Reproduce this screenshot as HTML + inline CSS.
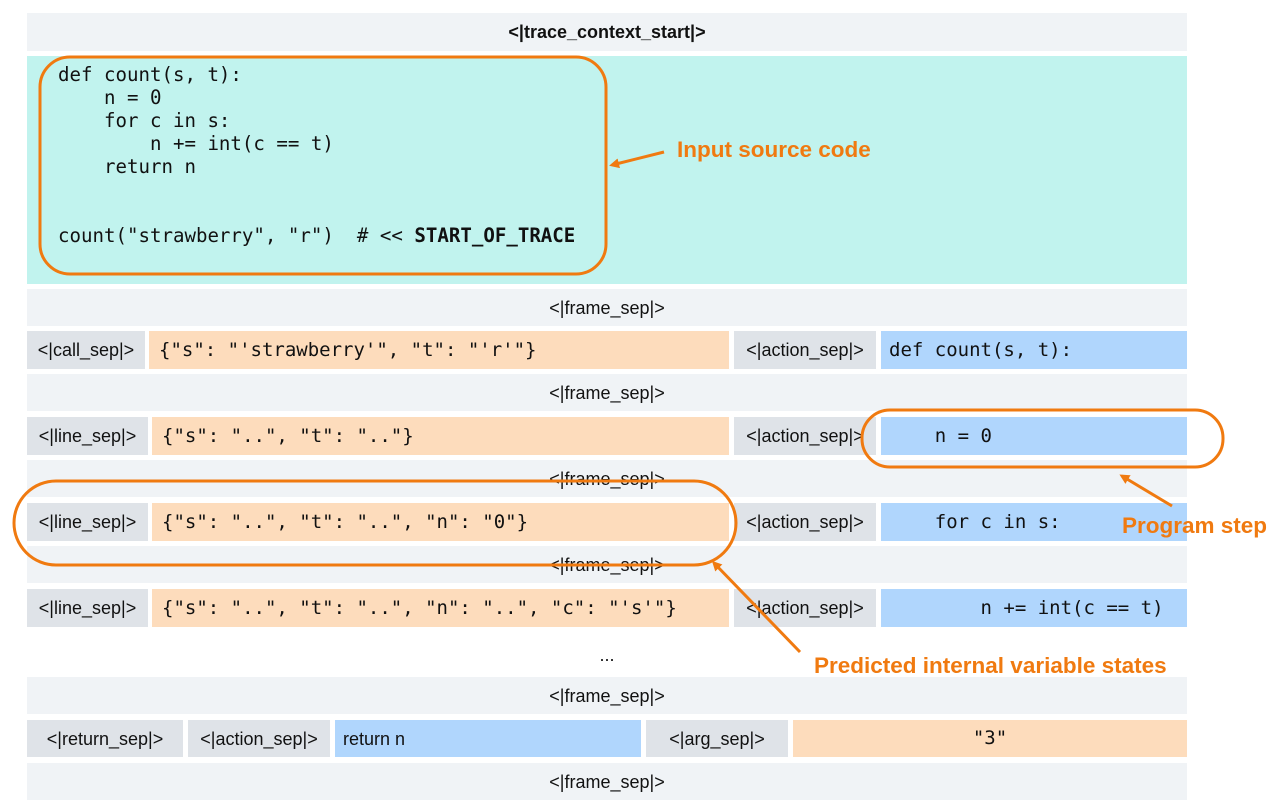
<!DOCTYPE html>
<html><head><meta charset="utf-8"><style>
body{margin:0;width:1280px;height:808px;background:#fff;position:relative;overflow:hidden;font-family:"Liberation Sans",sans-serif;}
.b{position:absolute;box-sizing:border-box;display:flex;align-items:center;font-size:18px;color:#111;white-space:pre;line-height:1;}
.g{background:#f0f3f6;justify-content:center;}
.t{background:#dfe3e8;justify-content:center;}
.o{background:#fddcbc;font-family:"DejaVu Sans Mono","Liberation Mono",monospace;font-size:19px;padding-left:10px;}
.u{background:#b0d6fd;font-family:"DejaVu Sans Mono","Liberation Mono",monospace;font-size:19px;padding-left:8px;}
.code{position:absolute;left:58px;top:63px;font-family:"DejaVu Sans Mono","Liberation Mono",monospace;font-size:19.1px;line-height:23px;white-space:pre;color:#111;}
.a{position:absolute;color:#f07a10;font-weight:bold;font-size:22.5px;white-space:nowrap;}
</style></head><body>
<div class="b g" style="left:27px;top:13px;width:1160px;height:38px;font-weight:bold">&lt;|trace_context_start|&gt;</div>
<div class="b" style="left:27px;top:56px;width:1160px;height:228px;background:#c1f3ee"></div>
<div class="code">def count(s, t):
    n = 0
    for c in s:
        n += int(c == t)
    return n


count("strawberry", "r")  # &lt;&lt; <b>START_OF_TRACE</b></div>

<div class="b g" style="left:27px;top:289px;width:1160px;height:37px">&lt;|frame_sep|&gt;</div>
<div class="b t" style="left:27px;top:331px;width:118px;height:38px">&lt;|call_sep|&gt;</div>
<div class="b o" style="left:149px;top:331px;width:580px;height:38px">{"s": "'strawberry'", "t": "'r'"}</div>
<div class="b t" style="left:734px;top:331px;width:142px;height:38px">&lt;|action_sep|&gt;</div>
<div class="b u" style="left:881px;top:331px;width:306px;height:38px">def count(s, t):</div>

<div class="b g" style="left:27px;top:374px;width:1160px;height:37px">&lt;|frame_sep|&gt;</div>
<div class="b t" style="left:27px;top:417px;width:121px;height:38px">&lt;|line_sep|&gt;</div>
<div class="b o" style="left:152px;top:417px;width:577px;height:38px">{"s": "..", "t": ".."}</div>
<div class="b t" style="left:734px;top:417px;width:142px;height:38px">&lt;|action_sep|&gt;</div>
<div class="b u" style="left:881px;top:417px;width:306px;height:38px">    n = 0</div>

<div class="b g" style="left:27px;top:460px;width:1160px;height:37px">&lt;|frame_sep|&gt;</div>
<div class="b t" style="left:27px;top:503px;width:121px;height:38px">&lt;|line_sep|&gt;</div>
<div class="b o" style="left:152px;top:503px;width:577px;height:38px">{"s": "..", "t": "..", "n": "0"}</div>
<div class="b t" style="left:734px;top:503px;width:142px;height:38px">&lt;|action_sep|&gt;</div>
<div class="b u" style="left:881px;top:503px;width:306px;height:38px">    for c in s:</div>

<div class="b g" style="left:27px;top:546px;width:1160px;height:37px">&lt;|frame_sep|&gt;</div>
<div class="b t" style="left:27px;top:589px;width:121px;height:38px">&lt;|line_sep|&gt;</div>
<div class="b o" style="left:152px;top:589px;width:577px;height:38px">{"s": "..", "t": "..", "n": "..", "c": "'s'"}</div>
<div class="b t" style="left:734px;top:589px;width:142px;height:38px">&lt;|action_sep|&gt;</div>
<div class="b u" style="left:881px;top:589px;width:306px;height:38px">        n += int(c == t)</div>

<div class="b" style="left:27px;top:642px;width:1160px;height:26px;justify-content:center">...</div>
<div class="b g" style="left:27px;top:677px;width:1160px;height:37px">&lt;|frame_sep|&gt;</div>
<div class="b t" style="left:27px;top:720px;width:156px;height:37px">&lt;|return_sep|&gt;</div>
<div class="b t" style="left:188px;top:720px;width:142px;height:37px">&lt;|action_sep|&gt;</div>
<div class="b" style="left:335px;top:720px;width:306px;height:37px;background:#b0d6fd;padding-left:8px">return n</div>
<div class="b t" style="left:646px;top:720px;width:142px;height:37px">&lt;|arg_sep|&gt;</div>
<div class="b o" style="left:793px;top:720px;width:394px;height:37px;justify-content:center;padding-left:0">"3"</div>
<div class="b g" style="left:27px;top:763px;width:1160px;height:37px">&lt;|frame_sep|&gt;</div>

<svg style="position:absolute;left:0;top:0" width="1280" height="808">
<defs><marker id="m" markerWidth="10" markerHeight="10" refX="7" refY="5" orient="auto" markerUnits="userSpaceOnUse"><path d="M0,0 L10,5 L0,10 z" fill="#f07a10"/></marker></defs>
<g fill="none" stroke="#f07a10" stroke-width="3">
<rect x="40" y="57" width="566" height="217" rx="30"/>
<rect x="862" y="410" width="361" height="57" rx="28"/>
<rect x="14" y="481" width="722" height="84" rx="42"/>
<path d="M664,152 L612,165" marker-end="url(#m)"/>
<path d="M1172,506 L1122,476" marker-end="url(#m)"/>
<path d="M800,652 L714,563" marker-end="url(#m)"/>
</g></svg>
<div class="a" style="left:677px;top:137px">Input source code</div>
<div class="a" style="left:1122px;top:513px">Program step</div>
<div class="a" style="left:814px;top:653px">Predicted internal variable states</div>
</body></html>
